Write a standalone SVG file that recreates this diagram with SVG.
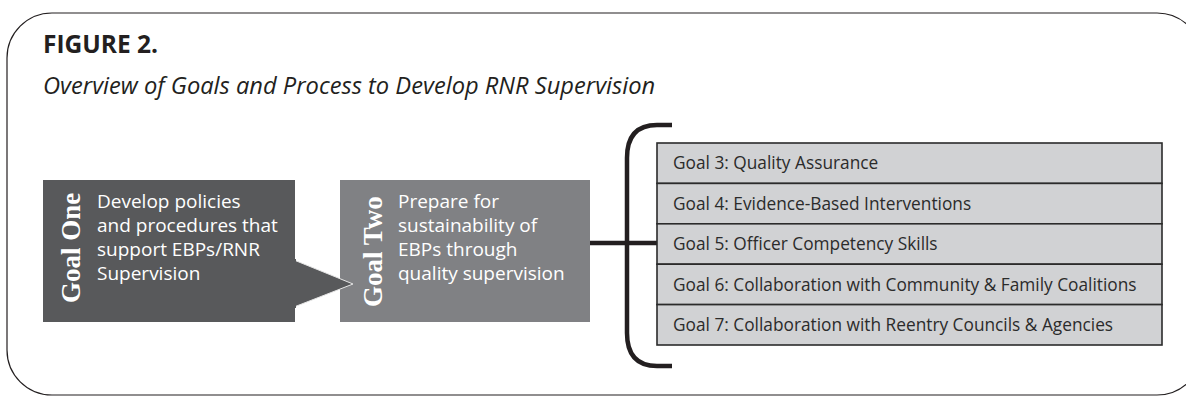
<svg xmlns="http://www.w3.org/2000/svg" width="1186" height="396" viewBox="0 0 1186 396">
<style>
.sans{font-family:"Open Sans",Lato,"Liberation Sans",sans-serif}
.title{font-size:24.5px;font-weight:bold;fill:#231f20}
.sub{font-size:23.7px;font-style:italic;fill:#231f20}
.desc{font-size:19px;fill:#ffffff}
.lbl{font-family:"Liberation Serif","DejaVu Serif",serif;font-size:27px;font-weight:bold;fill:#ffffff}
.row{fill:#d1d2d4;stroke:#2b2b2b;stroke-width:1.6}
.rowt{font-size:17.3px;fill:#2b2b2b}
.conn{fill:none;stroke:#231f20;stroke-width:4.5}
</style>
<rect x="7" y="13" width="1195" height="382" rx="45" ry="45" fill="#ffffff" stroke="#231f20" stroke-width="1.2"/>
<g id="title" class="sans">
<text class="title" x="43" y="53">FIGURE 2.</text>
<text class="sub" x="43" y="94">Overview of Goals and Process to Develop RNR Supervision</text>
</g>
<g id="goal-two">
<rect x="340" y="180" width="250" height="142" fill="#808184"/>
<text class="lbl" transform="translate(382,307) rotate(-90)">Goal Two</text>
<text class="sans desc"><tspan x="398" y="208">Prepare for</tspan><tspan x="398" y="232">sustainability of</tspan><tspan x="398" y="256">EBPs through</tspan><tspan x="398" y="280">quality supervision</tspan></text>
</g>
<g id="goal-one">
<rect x="43" y="180" width="252" height="142" fill="#58595b"/>
<polygon points="294,260 353,284 294,307" fill="#58595b" stroke="#e6e6e6" stroke-width="1"/>
<rect x="292" y="259" width="4" height="49" fill="#58595b"/>
<text class="lbl" transform="translate(80,303) rotate(-90)">Goal One</text>
<text class="sans desc"><tspan x="97" y="208">Develop policies</tspan><tspan x="97" y="232">and procedures that</tspan><tspan x="97" y="256">support EBPs/RNR</tspan><tspan x="97" y="280">Supervision</tspan></text>
</g>
<g id="connectors">
<path class="conn" d="M590,243 H657"/>
<path class="conn" d="M672,125 H657 Q627,125 627,158 V333 Q627,366 657,366 H672"/>
</g>
<g id="goals-list" class="sans">
<g id="goal3"><rect class="row" x="657" y="143" width="505" height="40.4"/><text class="rowt" x="673" y="169">Goal 3: Quality Assurance</text></g>
<g id="goal4"><rect class="row" x="657" y="183.4" width="505" height="40.4"/><text class="rowt" x="673" y="209.5">Goal 4: Evidence-Based Interventions</text></g>
<g id="goal5"><rect class="row" x="657" y="223.8" width="505" height="40.4"/><text class="rowt" x="673" y="250">Goal 5: Officer Competency Skills</text></g>
<g id="goal6"><rect class="row" x="657" y="264.2" width="505" height="40.4"/><text class="rowt" x="673" y="290.5">Goal 6: Collaboration with Community &amp; Family Coalitions</text></g>
<g id="goal7"><rect class="row" x="657" y="304.6" width="505" height="40.4"/><text class="rowt" x="673" y="331">Goal 7: Collaboration with Reentry Councils &amp; Agencies</text></g>
</g>
</svg>
